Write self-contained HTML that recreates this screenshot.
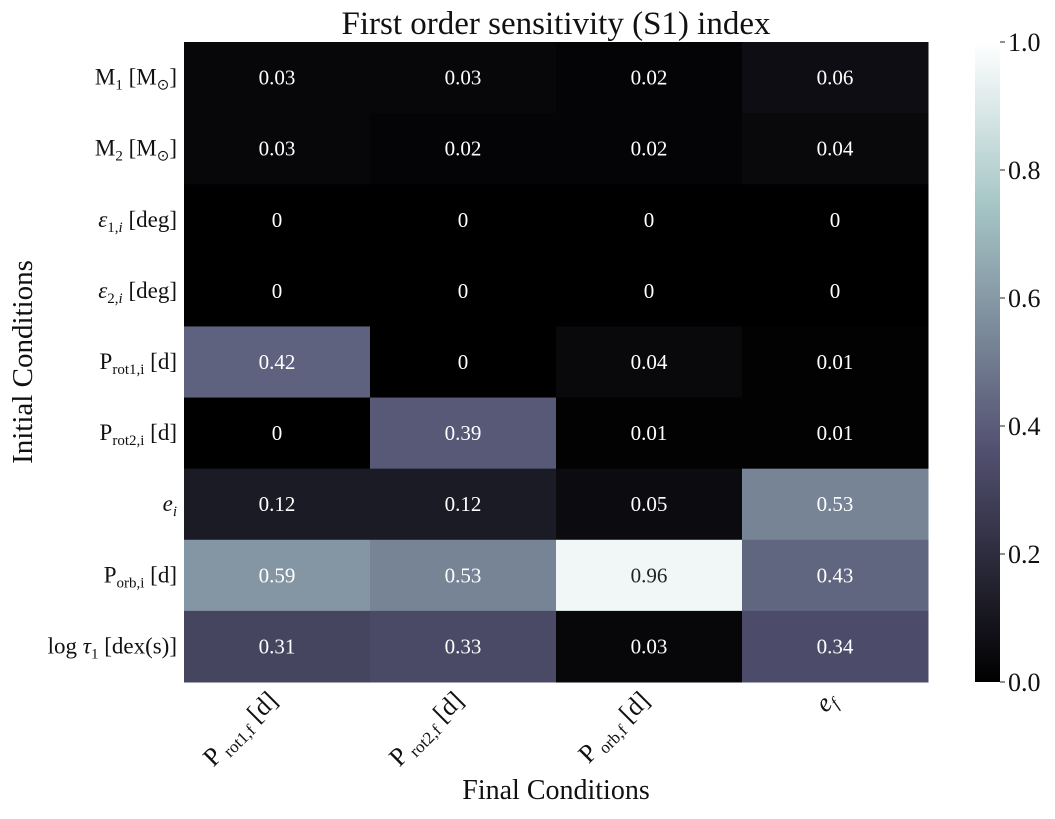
<!DOCTYPE html>
<html><head><meta charset="utf-8">
<style>
body{margin:0;background:#fff;}
svg text{font-family:"Liberation Serif",serif;fill:#111;}
</style></head>
<body>
<svg id="chart" width="1055" height="814" xmlns="http://www.w3.org/2000/svg">
<defs>
<linearGradient id="boneGrad" x1="0" y1="1" x2="0" y2="0">
<stop offset="0" stop-color="rgb(0,0,0)"/>
<stop offset="0.365" stop-color="rgb(83,81,113)"/>
<stop offset="0.746" stop-color="rgb(166,198,198)"/>
<stop offset="1" stop-color="rgb(255,255,255)"/>
</linearGradient>
</defs>
<text x="556" y="34" font-size="33" text-anchor="middle">First order sensitivity (S1) index</text>
<text transform="translate(32,362) rotate(-90)" font-size="29" text-anchor="middle">Initial Conditions</text>
<text x="556" y="799" font-size="28" text-anchor="middle">Final Conditions</text>
<g id="cells"></g>
<g id="rowlabels"></g>
<g id="collabels"></g>
<rect x="975" y="42" width="25" height="640" fill="url(#boneGrad)"/>
<g id="cbticks"></g>
</svg>
<script>
const rowLabels = ['M<tspan font-size="15" dy="5">1</tspan><tspan dy="-5"> [M</tspan><tspan font-size="15" dy="5">⊙</tspan><tspan dy="-5">]</tspan>',
 'M<tspan font-size="15" dy="5">2</tspan><tspan dy="-5"> [M</tspan><tspan font-size="15" dy="5">⊙</tspan><tspan dy="-5">]</tspan>',
 '<tspan font-style="italic">ε</tspan><tspan font-size="15" dy="5">1,<tspan font-style="italic">i</tspan></tspan><tspan dy="-5"> [deg]</tspan>',
 '<tspan font-style="italic">ε</tspan><tspan font-size="15" dy="5">2,<tspan font-style="italic">i</tspan></tspan><tspan dy="-5"> [deg]</tspan>',
 'P<tspan font-size="15" dy="5">rot1,i</tspan><tspan dy="-5"> [d]</tspan>',
 'P<tspan font-size="15" dy="5">rot2,i</tspan><tspan dy="-5"> [d]</tspan>',
 '<tspan font-style="italic">e</tspan><tspan font-size="15" font-style="italic" dy="5">i</tspan>',
 'P<tspan font-size="15" dy="5">orb,i</tspan><tspan dy="-5"> [d]</tspan>',
 'log <tspan font-style="italic">τ</tspan><tspan font-size="15" dy="5">1</tspan><tspan dy="-5"> [dex(s)]</tspan>'];
const colLabels = ['P<tspan font-size="17" dy="5"> rot1,f</tspan><tspan dy="-5"> [d]</tspan>',
 'P<tspan font-size="17" dy="5"> rot2,f</tspan><tspan dy="-5"> [d]</tspan>',
 'P<tspan font-size="17" dy="5"> orb,f</tspan><tspan dy="-5"> [d]</tspan>',
 '<tspan font-style="italic">e</tspan><tspan font-size="17" font-style="italic" dy="5">f</tspan>'];
const valuesProt1 = [0.03,0.03,0,0,0.42,0,0.12,0.59,0.31];
const valuesProt2 = [0.03,0.02,0,0,0,0.39,0.12,0.53,0.33];
const valuesPorb  = [0.02,0.02,0,0,0.04,0.01,0.05,0.96,0.03];
const valuesEcc   = [0.06,0.04,0,0,0.01,0.01,0.53,0.43,0.34];
const cbTicks = [0,0.2,0.4,0.6,0.8,1.0];

const cols=[valuesProt1,valuesProt2,valuesPorb,valuesEcc];
const X0=184,X1=928,Y0=42,Y1=682;
const cw=(X1-X0)/cols.length, rh=(Y1-Y0)/rowLabels.length;
const xPos=c=>X0+c*cw, yPos=r=>Y0+r*rh;
const cbY=v=>Y1-v*(Y1-Y0);
function interp(pts,v){for(let i=1;i<pts.length;i++){if(v<=pts[i][0]){const[a,b]=[pts[i-1],pts[i]];return b[0]===a[0]?a[1]:a[1]+(v-a[0])/(b[0]-a[0])*(b[1]-a[1]);}}return pts[pts.length-1][1];}
function bone(v){
 const r=interp([[0,0],[0.746,0.6528],[1,1]],v);
 const g=interp([[0,0],[0.365,0.3194],[0.746,0.7778],[1,1]],v);
 const b=interp([[0,0],[0.365,0.4444],[1,1]],v);
 return `rgb(${Math.round(r*255)},${Math.round(g*255)},${Math.round(b*255)})`;}
const NS='http://www.w3.org/2000/svg';
const cells=document.getElementById('cells');
cols.forEach((col,c)=>col.forEach((v,r)=>{
 const rect=document.createElementNS(NS,'rect');
 
 
 rect.setAttribute('x',xPos(c));rect.setAttribute('y',yPos(r));
 rect.setAttribute('width',cw+0.5);rect.setAttribute('height',rh+0.5);
 rect.setAttribute('fill',bone(v));cells.appendChild(rect);
 const t=document.createElementNS(NS,'text');
 
 
 t.setAttribute('x',xPos(c)+cw/2);t.setAttribute('y',yPos(r)+rh/2+7);
 t.setAttribute('text-anchor','middle');t.setAttribute('font-size','21');
 t.setAttribute('style','fill:'+(v>0.7?'#222':'#fff'));
 t.textContent=v===0?'0':String(v);cells.appendChild(t);
}));
const rl=document.getElementById('rowlabels');
rowLabels.forEach((l,r)=>{
 const t=document.createElementNS(NS,'text');
 
 
 t.setAttribute('x',177);t.setAttribute('y',yPos(r)+rh/2+7);
 t.setAttribute('text-anchor','end');t.setAttribute('font-size','23');
 t.innerHTML=l;rl.appendChild(t);
});
const cl=document.getElementById('collabels');
colLabels.forEach((l,c)=>{
 const cx=xPos(c)+cw/2;
 const t=document.createElementNS(NS,'text');
 
 
 t.setAttribute('transform',`translate(${cx+2},${702}) rotate(-45)`);
 t.setAttribute('text-anchor','end');t.setAttribute('font-size','26');
 t.innerHTML=l;cl.appendChild(t);
});
const cbt=document.getElementById('cbticks');
cbTicks.forEach(v=>{
 const ln=document.createElementNS(NS,'line');
 
 
 ln.setAttribute('x1',1000);ln.setAttribute('x2',1005);
 ln.setAttribute('y1',cbY(v));ln.setAttribute('y2',cbY(v));
 ln.setAttribute('stroke','#222');cbt.appendChild(ln);
 const t=document.createElementNS(NS,'text');
 
 
 t.setAttribute('x',1008);t.setAttribute('y',cbY(v)+9);
 t.setAttribute('font-size','26');
 t.textContent=v.toFixed(1);cbt.appendChild(t);
});
</script>
</body></html>
